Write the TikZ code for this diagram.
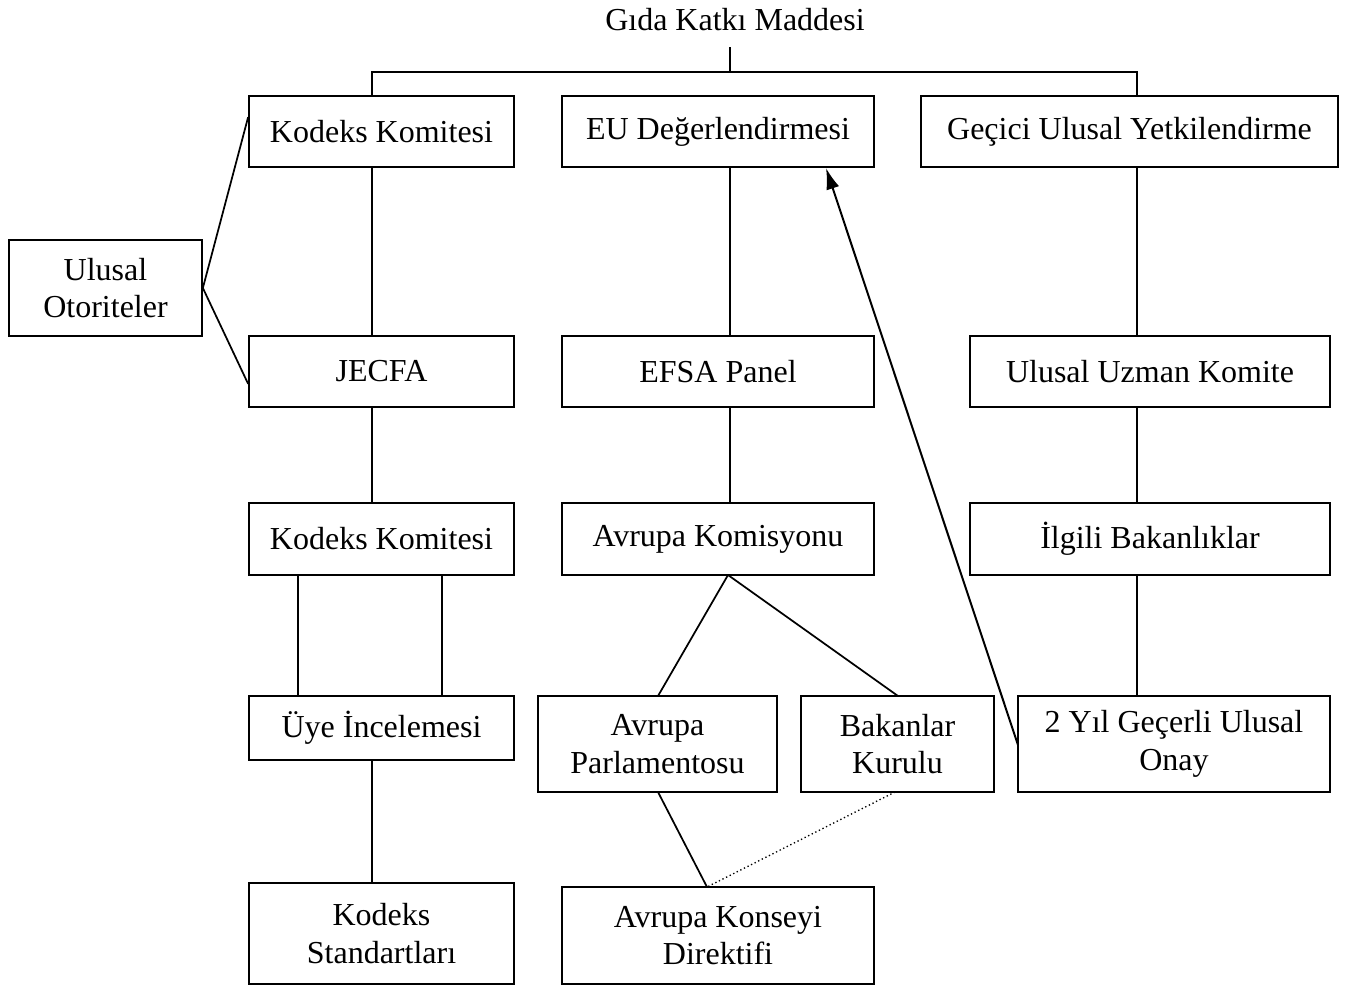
\documentclass[tikz,border=0pt]{standalone}
\usepackage{fontspec}
\setmainfont{Liberation Serif}
\usetikzlibrary{arrows.meta}
\begin{document}
\begin{tikzpicture}[x=0.75pt,y=-0.75pt,
  box/.style={draw,line width=1.3pt,inner sep=0pt,align=center,font=\fontsize{24pt}{28pt}\selectfont},
  lnk/.style={line width=1.3pt},
  dotlnk/.style={line width=1pt,dotted},
  arr/.style={line width=1.5pt,-{Latex[length=16pt,width=10pt]}}]
\useasboundingbox (0,0) rectangle (1354,986);
% title
\node[font=\fontsize{24pt}{28pt}\selectfont] (title) at (735,20) {Gıda Katkı Maddesi};
% row 1
\node[box,minimum width=198.75pt,minimum height=53.25pt] (kk1) at (381.5,131.5) {Kodeks Komitesi};
\node[box,minimum width=234pt,minimum height=53.25pt] (eu) at (718,131.5) {EU Değerlendirmesi};
\node[box,minimum width=312.75pt,minimum height=53.25pt] (gec) at (1129.5,131.5) {Geçici Ulusal Yetkilendirme};
% side
\node[box,minimum width=144.75pt,minimum height=72pt] (uo) at (105.5,288) {Ulusal\\Otoriteler};
% row 2
\node[box,minimum width=198.75pt,minimum height=53.25pt] (jecfa) at (381.5,371.5) {JECFA};
\node[box,minimum width=234pt,minimum height=53.25pt] (efsa) at (718,371.5) {EFSA Panel};
\node[box,minimum width=270pt,minimum height=53.25pt] (uuk) at (1150,371.5) {Ulusal Uzman Komite};
% row 3
\node[box,minimum width=198.75pt,minimum height=54pt] (kk2) at (381.5,539) {Kodeks Komitesi};
\node[box,minimum width=234pt,minimum height=54pt] (ak) at (718,539) {Avrupa Komisyonu};
\node[box,minimum width=270pt,minimum height=54pt] (ib) at (1150,539) {İlgili Bakanlıklar};
% row 4
\node[box,minimum width=198.75pt,minimum height=48pt] (uye) at (381.5,728) {Üye İncelemesi};
\node[box,minimum width=179.25pt,minimum height=72pt] (ap) at (657.5,744) {Avrupa\\Parlamentosu};
\node[box,minimum width=144.75pt,minimum height=72pt] (bk) at (897.5,744) {Bakanlar\\Kurulu};
\node[box,minimum width=234pt,minimum height=72pt] (yil) at (1174,744) {2 Yıl Geçerli Ulusal\\Onay};
% row 5
\node[box,minimum width=198.75pt,minimum height=75.75pt] (ks) at (381.5,933.5) {Kodeks\\Standartları};
\node[box,minimum width=234pt,minimum height=72.75pt] (akd) at (718,935.5) {Avrupa Konseyi\\Direktifi};
% helper coordinates
\coordinate (xa) at (372,0);
\coordinate (xb) at (730,0);
\coordinate (xc) at (1137,0);
\coordinate (xd) at (298,0);
\coordinate (xe) at (442,0);
\coordinate (stub) at (730,47);
\coordinate (tee) at (730,72);
\coordinate (tl) at (372,72);
\coordinate (tr) at (1137,72);
% top tree
\draw[lnk] (stub) -- (tee);
\draw[lnk] (xa |- kk1.north) -- (tl) -- (tr) -- (xc |- gec.north);
\draw[line width=2.2pt] (680,72) -- (778,72);
% verticals
\draw[lnk] (xa |- kk1.south) -- (xa |- jecfa.north);
\draw[lnk] (xb |- eu.south) -- (xb |- efsa.north);
\draw[lnk] (xc |- gec.south) -- (xc |- uuk.north);
\draw[lnk] (xa |- jecfa.south) -- (xa |- kk2.north);
\draw[lnk] (xb |- efsa.south) -- (xb |- ak.north);
\draw[lnk] (xc |- uuk.south) -- (xc |- ib.north);
\draw[lnk] (xd |- kk2.south) -- (xd |- uye.north);
\draw[lnk] (xe |- kk2.south) -- (xe |- uye.north);
\draw[lnk] (xc |- ib.south) -- (xc |- yil.north);
\draw[lnk] (xa |- uye.south) -- (xa |- ks.north);
% side links
\draw[lnk] (kk1.north west) ++(0,22) coordinate (kkl) (uo.east) -- (kkl);
\draw[lnk] (jecfa.south west) ++(0,-24) coordinate (jl) (uo.east) -- (jl);
% EU branch
\coordinate (akb) at (728,575);
\draw[lnk] (akb) -- (658,696) coordinate (apt);
\draw[lnk] (akb) -- (898,696) coordinate (bkt);
\coordinate (akdt) at (707,887);
\draw[lnk] (658,792) coordinate (apb) -- (akdt);
\draw[dotlnk] (895,792) coordinate (bkb) -- (akdt);
% feedback arrow
\coordinate (yl) at (1018,745);
\coordinate (eub) at (826,168);
\draw[arr] (yl) -- (eub);
\end{tikzpicture}
\end{document}
